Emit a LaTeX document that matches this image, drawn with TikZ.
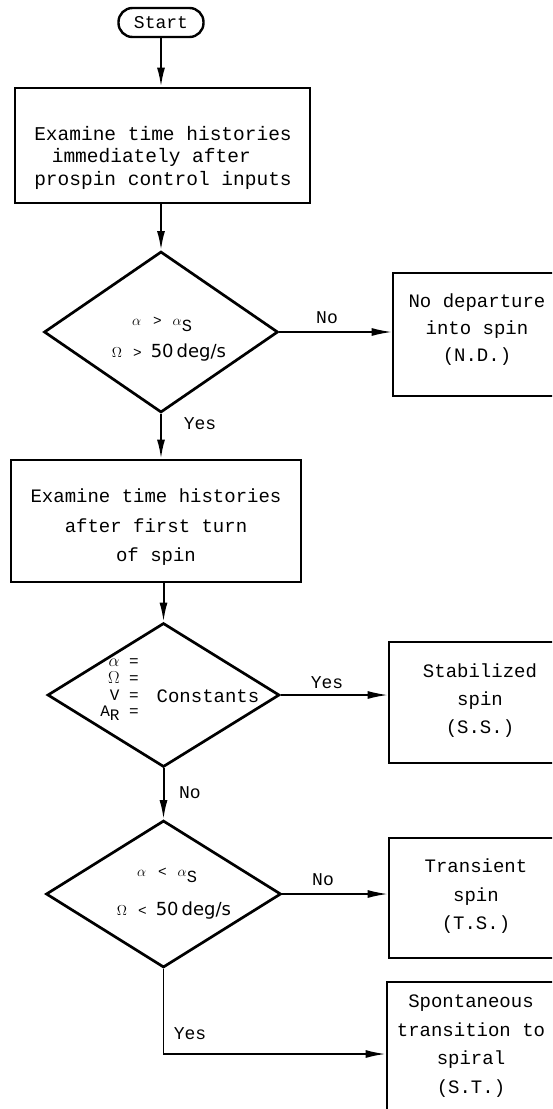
\documentclass[tikz,border=0pt]{standalone}
\usepackage{fontspec}
\setmonofont{Liberation Mono}
\newfontfamily\unitfont{DejaVu Sans}
\usetikzlibrary{shapes.geometric,arrows.meta}
\begin{document}
\begin{tikzpicture}[x=1pt,y=-1pt,
  box/.style={draw,line width=2.7pt,inner sep=0pt},
  dec/.style={diamond,draw,line width=2.7pt,inner sep=0pt},
  txt/.style={font=\fontsize{19}{28.5}\selectfont\ttfamily,align=center,inner sep=0pt},
  lab/.style={font=\fontsize{18}{20}\selectfont\ttfamily,inner sep=0pt},
  cond/.style={font=\fontsize{14.4}{16}\selectfont\ttfamily,inner sep=0pt},
  arr/.style={line width=2pt,-{Latex[length=19pt,width=8pt]}},
  harr/.style={line width=1.5pt,-{Latex[length=20pt,width=8pt]}},
]
\useasboundingbox (0,0) rectangle (552,1109);
\fill[white] (0,0) rectangle (552,1109);
\clip (0,0) rectangle (552,1109);

% start
\node[draw,line width=2.4pt,rounded corners=14pt,minimum width=85pt,minimum height=29pt,
      inner sep=0pt,font=\fontsize{18}{18}\selectfont\ttfamily] (start) at (161,22.5) {Start};

% box 1
\node[box,minimum width=295pt,minimum height=115pt] (b1) at (162.5,145.5) {};
\node[txt,font=\fontsize{19.5}{22.5}\selectfont\ttfamily] (t1) at (163,157.5)
  {Examine time histories\\immediately after\hphantom{xx}\\prospin control inputs};

% diamond 1
\node[dec,minimum width=234pt,minimum height=161pt] (d1) at (161,332) {};
\node[cond] (c1a) at (162,324) {$\alpha$\hspace{12pt}>\hspace{11pt}$\alpha$\raisebox{-6pt}{\fontsize{17}{17}\selectfont S}};
\node[cond] (c1b) at (169,353) {$\Omega$\hspace{11pt}>\hspace{9pt}{\unitfont\fontsize{18}{18}\selectfont 50\,deg/s}};

% ND box
\node[box,minimum width=174pt,minimum height=123pt] (nd) at (480,334.5) {};
\node[txt,font=\fontsize{19}{27}\selectfont\ttfamily] (tnd) at (477,329.5) {No departure\\into spin\\(N.D.)};

% box 2
\node[box,minimum width=290pt,minimum height=122pt] (b2) at (156,521) {};
\node[txt,font=\fontsize{19}{29.5}\selectfont\ttfamily] (t2) at (156,527.5)
  {Examine time histories\\after first turn\\of spin};

% diamond 2
\node[dec,minimum width=232pt,minimum height=144pt] (d2) at (163.5,695) {};
\node[font=\fontsize{16}{16.7}\selectfont\ttfamily,align=right,inner sep=0pt,anchor=east] (c2a) at (139,690)
  {$\alpha$ =\\$\Omega$ =\\V =\\A\raisebox{-4pt}{R} =};
\node[txt] (c2b) at (208,696) {Constants};

% SS box
\node[box,minimum width=182pt,minimum height=121pt] (ss) at (480,702.5) {};
\node[txt,font=\fontsize{19}{28}\selectfont\ttfamily] (tss) at (480,701) {Stabilized\\spin\\(S.S.)};

% diamond 3
\node[dec,minimum width=235pt,minimum height=147pt] (d3) at (163.5,894) {};
\node[cond] (c3a) at (167,875) {$\alpha$\hspace{12pt}<\hspace{11pt}$\alpha$\raisebox{-6pt}{\fontsize{17}{17}\selectfont S}};
\node[cond] (c3b) at (174,911) {$\Omega$\hspace{11pt}<\hspace{9pt}{\unitfont\fontsize{18}{18}\selectfont 50\,deg/s}};

% TS box
\node[box,minimum width=180pt,minimum height=120pt] (ts) at (479,898) {};
\node[txt] (tts) at (476,896.5) {Transient\\spin\\(T.S.)};

% ST box
\node[box,minimum width=183pt,minimum height=143pt] (st) at (478.5,1053.5) {};
\node[txt] (tst) at (471,1046) {Spontaneous\\transition to\\spiral\\(S.T.)};

% connectors
\draw[arr] (start.south) -- (start.south |- b1.north);
\draw[arr] (b1.south -| d1.north) -- (d1.north);
\draw[arr] (d1.south) -- (d1.south |- b2.north);
\draw[arr] (b2.south -| d2.north) -- (d2.north);
\draw[arr] (d2.south) -- (d3.north);
\coordinate (corner) at (163.5,1054);
\draw[line width=1.8pt,-{Latex[length=20pt,width=8pt]}] (d3.south) -- (corner) -- (corner -| st.west);
\draw[harr] (d1.east) -- (d1.east -| nd.west);
\draw[harr] (d2.east) -- (d2.east -| ss.west);
\draw[harr] (d3.east) -- (d3.east -| ts.west);

% labels
\node[lab] (l1) at (327,318) {No};
\node[lab] (l2) at (200,424) {Yes};
\node[lab] (l3) at (327,683) {Yes};
\node[lab] (l4) at (190,793) {No};
\node[lab] (l5) at (323,880) {No};
\node[lab] (l6) at (190,1034) {Yes};
\end{tikzpicture}
\end{document}
